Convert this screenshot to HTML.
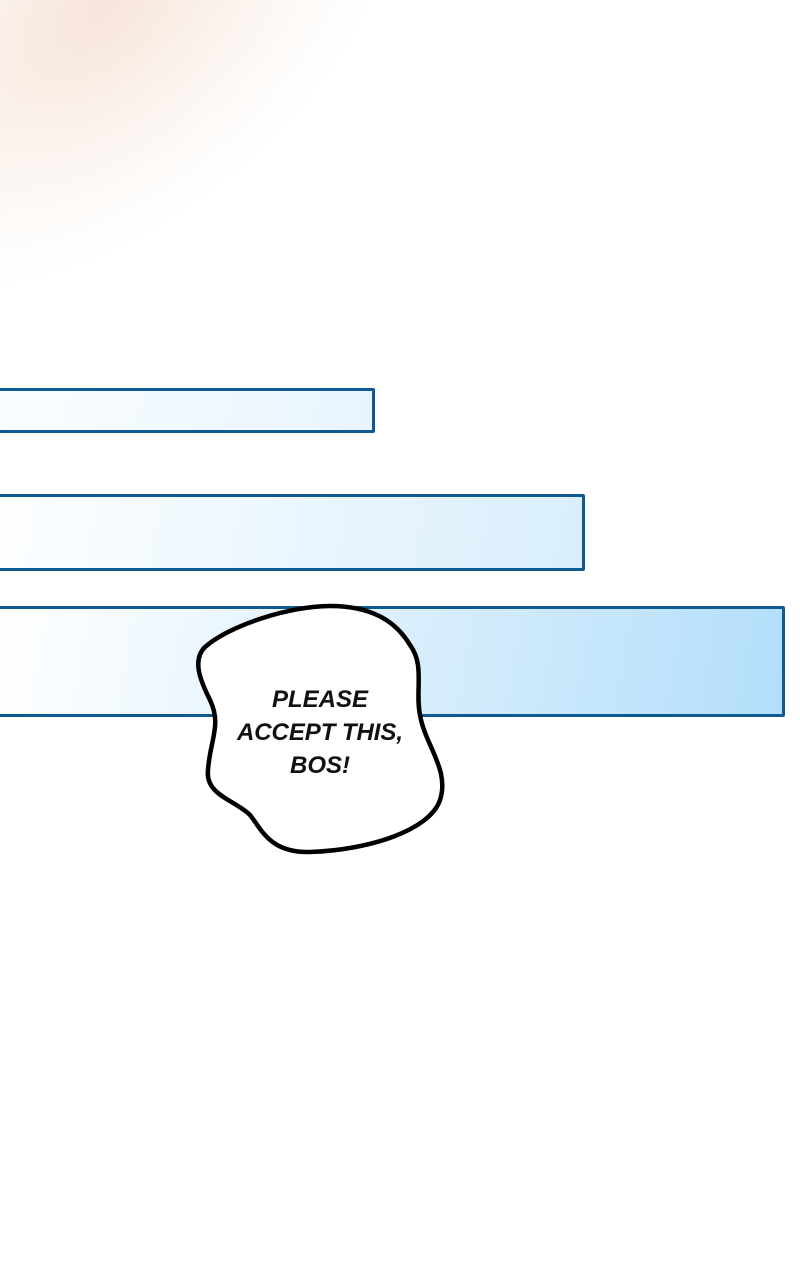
<!DOCTYPE html>
<html><head><style>
html,body{margin:0;padding:0;width:800px;height:1280px;overflow:hidden;background:#fff;position:relative;font-family:"Liberation Sans",sans-serif}
.glow{position:absolute;left:-250px;top:-200px;width:700px;height:420px;border-radius:50%;background:radial-gradient(ellipse at 50% 50%,rgba(242,212,195,0.6) 0%,rgba(246,225,212,0.4) 35%,rgba(252,242,235,0.2) 60%,rgba(255,255,255,0) 75%);transform:rotate(-40deg)}
.bar{position:absolute;left:-4px;border:3px solid #0f5a90;border-radius:2px;box-sizing:border-box}
</style></head><body>
<div class="glow"></div>
<div class="bar" style="top:388px;width:379px;height:45px;background:linear-gradient(100deg,#fafdff,#e8f4fd)"></div>
<div class="bar" style="top:494px;width:589px;height:77px;background:linear-gradient(100deg,#fdfeff,#d9eefc)"></div>
<div class="bar" style="top:606px;width:789px;height:111px;background:linear-gradient(100deg,#ffffff 0%,#e3f2fd 40%,#b2defa 100%)"></div>
<svg style="position:absolute;left:0;top:0" width="800" height="1280">
<path d="M330,606 C370,606 395,620 410,645 C425,665 415,690 420,715 C425,745 450,770 440,800 C430,830 370,850 310,852 C270,853 262,830 250,815 C235,800 205,795 208,770 C210,740 222,725 210,700 C200,680 192,660 205,647 C230,625 290,606 330,606 Z" fill="#fff" stroke="#000" stroke-width="4.5"/>
<g font-family="'Liberation Sans',sans-serif" font-size="24" font-style="italic" font-weight="bold" fill="#111" text-anchor="middle">
<text x="320" y="707">PLEASE</text>
<text x="320" y="740" textLength="166">ACCEPT THIS,</text>
<text x="320" y="773">BOS!</text>
</g>
</svg>
</body></html>
